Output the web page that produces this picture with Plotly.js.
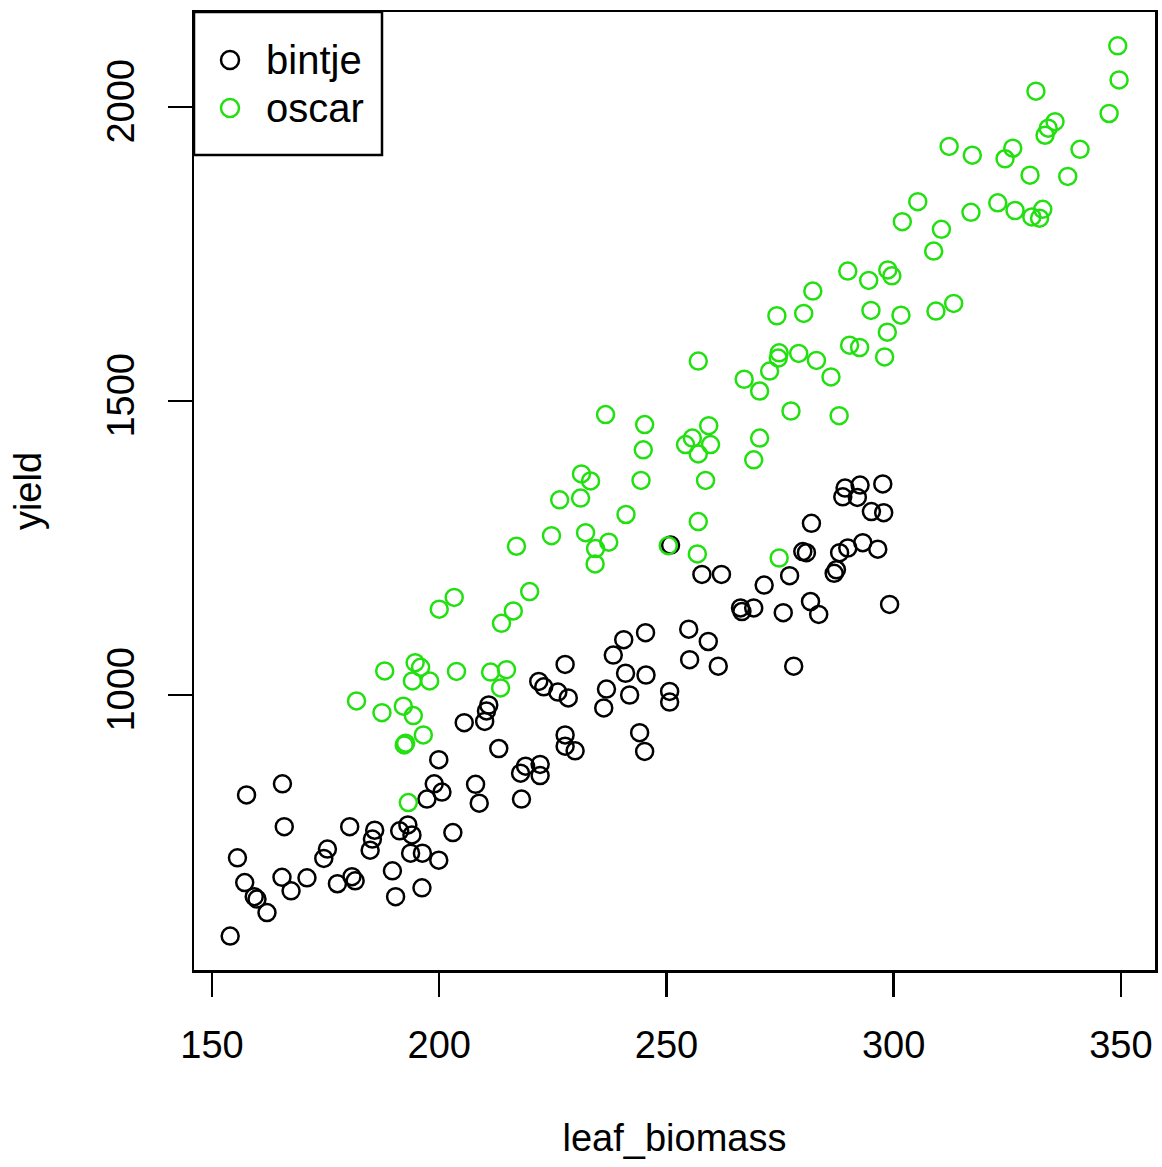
<!DOCTYPE html>
<html>
<head>
<meta charset="utf-8">
<script src="https://cdn.plot.ly/plotly-3.0.1.min.js"></script>
<style>
  html, body { margin: 0; padding: 0; background: #ffffff; }
  #chart { width: 1162px; height: 1167px; }
</style>
</head>
<body>
<div id="chart"></div>
<script>
// ---- data ----
const bintjeBiomass = [157.6,165.5,165.9,155.6,157.2,159.3,159.9,162.1,154.0,165.4,
  167.4,170.9,175.4,174.6,180.3,177.6,180.8,181.5,185.8,185.3,
  184.8,189.7,190.4,191.3,193.1,194.0,193.7,196.3,196.2,199.9,
  198.9,197.3,200.6,199.9,203.0,208.0,208.8,218.1,219.0,222.2,
  217.9,222.2,213.1,205.5,210.9,210.4,210.0,227.7,227.7,229.9,
  221.9,223.0,226.1,228.4,227.7,236.2,236.8,241.9,238.3,240.6,
  241.0,245.4,245.5,250.7,250.7,244.1,245.2,254.9,259.2,255.1,
  261.4,250.9,257.8,262.1,266.3,266.6,269.2,271.5,275.7,277.1,
  278.0,281.7,283.5,280.0,280.8,281.9,286.9,287.4,288.1,289.9,
  293.2,296.5,299.1,288.8,289.3,292.0,292.6,295.1,297.8,297.6];
const bintjeYield = [830,849,776,723,681,657,653,630,590,690,
  667,689,738,722,776,679,691,684,770,755,
  736,701,657,769,779,762,731,731,672,719,
  849,823,835,890,766,848,816,823,879,882,
  867,863,909,953,983,973,955,932,913,905,
  1023,1014,1005,995,1052,978,1010,1000,1068,1094,
  1037,1106,1034,1006,988,936,904,1112,1091,1060,
  1049,1255,1205,1205,1148,1142,1148,1187,1140,1203,
  1049,1159,1137,1244,1242,1292,1207,1213,1242,1250,
  1259,1248,1154,1337,1352,1336,1357,1312,1310,1359];
const oscarBiomass = [200.0,203.3,213.7,216.3,219.9,188.0,194.7,195.9,194.1,197.9,
  203.8,211.3,214.8,213.5,181.8,187.4,192.1,194.3,196.5,192.3,
  192.6,193.2,236.6,245.2,244.9,244.4,259.3,255.7,254.2,259.7,
  257.0,258.6,257.0,256.8,231.3,233.3,226.5,231.1,241.1,224.7,
  232.2,237.3,234.4,234.3,250.4,274.8,217.0,289.9,294.5,298.7,
  299.6,282.2,274.3,280.2,295.0,301.6,298.6,290.3,292.5,298.0,
  257.0,274.8,274.6,279.1,283.0,272.7,267.1,270.5,286.2,277.4,
  288.0,270.5,269.2,312.2,317.3,326.2,324.5,330.0,338.3,341.0,
  333.3,334.0,335.5,347.4,305.3,301.9,310.5,308.8,317.0,322.9,
  326.7,330.4,332.8,332.1,309.3,313.2,349.3,349.6,331.3];
const oscarYield = [1146,1166,1122,1143,1176,1041,1055,1047,1024,1024,
  1040,1039,1043,1012,990,970,981,965,932,915,
  918,817,1477,1460,1417,1365,1458,1437,1426,1426,
  1410,1365,1295,1240,1376,1364,1332,1335,1307,1271,
  1276,1260,1249,1223,1254,1233,1253,1721,1705,1723,
  1713,1687,1645,1649,1654,1646,1617,1595,1591,1575,
  1568,1582,1573,1581,1569,1551,1537,1517,1541,1483,
  1475,1437,1400,1933,1918,1930,1912,1884,1882,1928,
  1952,1964,1975,1989,1839,1805,1792,1755,1821,1837,
  1824,1813,1826,1811,1653,1666,2104,2046,2027];
const seriesNames = ['bintje', 'oscar'];
const xTickValues = [150, 200, 250, 300, 350];
const yTickValues = [1000, 1500, 2000];
const xLabel = 'leaf_biomass';
const yLabel = 'yield';

// ---- styling ----
const FONT = 'Liberation Sans, Arial, Helvetica, sans-serif';
const seriesColors = ['#000000', '#22E010'];

function makeTrace(x, y, name, color) {
  return {
    type: 'scatter', mode: 'markers', name: name, x: x, y: y,
    marker: { symbol: 'circle-open', size: 17, color: color, line: { width: 2.5, color: color } },
    hoverinfo: 'x+y'
  };
}

const traces = [
  makeTrace(bintjeBiomass, bintjeYield, seriesNames[0], seriesColors[0]),
  makeTrace(oscarBiomass, oscarYield, seriesNames[1], seriesColors[1])
];

// legend drawn as a boxed key in the top-left corner (R legend style)
const PLOT_W = 961, PLOT_H = 958;
const legendRows = [48, 96];            // px below plot top for each row centre
const legendShapes = [{
  type: 'rect', xref: 'paper', yref: 'paper',
  x0: 0, x1: 188 / PLOT_W, y0: 1 - 143 / PLOT_H, y1: 1,
  line: { color: '#000', width: 2.5 }, fillcolor: 'rgba(0,0,0,0)'
}];
const legendAnnotations = [];
seriesNames.forEach((name, i) => {
  const yy = 1 - legendRows[i] / PLOT_H;
  legendShapes.push({
    type: 'circle', xref: 'paper', yref: 'paper',
    xsizemode: 'pixel', ysizemode: 'pixel',
    xanchor: 36 / PLOT_W, yanchor: yy,
    x0: -9, x1: 9, y0: -9, y1: 9,
    line: { color: seriesColors[i], width: 2.5 }, fillcolor: 'rgba(0,0,0,0)'
  });
  legendAnnotations.push({
    xref: 'paper', yref: 'paper', x: 70 / PLOT_W, y: yy,
    xanchor: 'left', yanchor: 'middle', showarrow: false,
    text: name, font: { family: FONT, size: 40, color: '#000' }
  });
});

const axisCommon = {
  showgrid: false, zeroline: false,
  showline: true, mirror: true, linecolor: '#000', linewidth: 2.5,
  ticks: 'outside', ticklen: 24, tickwidth: 2.5, tickcolor: '#000',
  tickfont: { family: FONT, size: 38, color: '#000' },
  fixedrange: true
};

const layout = {
  width: 1162, height: 1167,
  paper_bgcolor: '#ffffff', plot_bgcolor: '#ffffff',
  margin: { l: 194, r: 7, t: 12, b: 197, pad: 0 },
  font: { family: FONT, color: '#000' },
  showlegend: false,
  shapes: legendShapes,
  annotations: legendAnnotations,
  xaxis: Object.assign({}, axisCommon, {
    range: [146.04, 357.5],
    tickmode: 'array', tickvals: xTickValues, ticktext: xTickValues.map(String),
    ticklabelstandoff: 16,
    title: { text: xLabel, font: { family: FONT, size: 38, color: '#000' }, standoff: 60 }
  }),
  yaxis: Object.assign({}, axisCommon, {
    range: [532.3, 2161.6],
    tickmode: 'array', tickvals: yTickValues, ticktext: yTickValues.map(String),
    tickangle: -90,
    ticklabelstandoff: 18,
    title: { text: yLabel, font: { family: FONT, size: 38, color: '#000' }, standoff: 47 }
  })
};

Plotly.newPlot('chart', traces, layout, { staticPlot: true, displayModeBar: false });
</script>
</body>
</html>
